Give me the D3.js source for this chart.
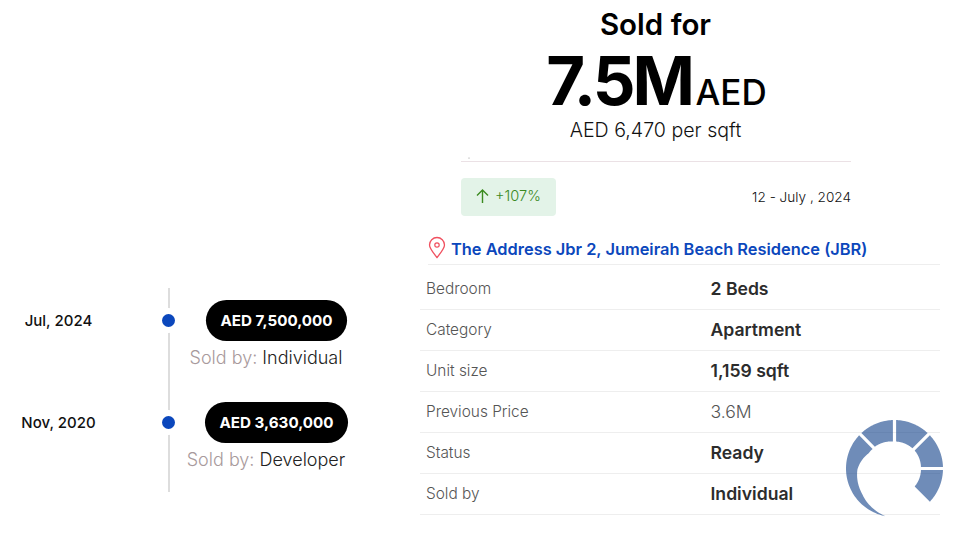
<!DOCTYPE html>
<html>
<head>
<meta charset="utf-8">
<script src="https://d3js.org/d3.v7.min.js"></script>
<style>
  html, body { margin: 0; background: #fff; }
  svg { display: block; }
  text { font-family: Inter, "Noto Sans", sans-serif; }
</style>
</head>
<body>
<script>
const soldPrice = '7.5M';
const pricePerSqft = 'AED 6,470 per sqft';
const change = '+107%';
const soldDate = '12 - July , 2024';
const place = 'The Address Jbr 2, Jumeirah Beach Residence (JBR)';

const saleDates = ['Jul, 2024', 'Nov, 2020'];
const salePrices = [7500000, 3630000];
const saleSellers = ['Individual', 'Developer'];

const rowLabels = ['Bedroom', 'Category', 'Unit size', 'Previous Price', 'Status', 'Sold by'];
const rowValues = ['2 Beds', 'Apartment', '1,159 sqft', '3.6M', 'Ready', 'Individual'];

// ring segments in degrees, clockwise from 12 o'clock
const ringStarts = [189, 315, 360, 405, 450];
const ringEnds = [315, 360, 405, 450, 495];
// inner edge is not round in the source, so read it at a few angles
const innerAngles = [189, 232, 270, 303, 360, 405, 450, 495];
const innerRadii = [48.5, 41, 37, 30, 27, 27, 26.5, 27];

const width = 973;
const height = 547;

const svg = d3.select('body').append('svg')
  .attr('width', width)
  .attr('height', height);

// header
const cx = 655;
svg.append('text').attr('x', cx + 0.5).attr('y', 35).attr('text-anchor', 'middle')
  .attr('font-size', 29.5).attr('font-weight', 600).attr('fill', '#000').text('Sold for');
svg.append('text').attr('x', 692).attr('y', 105).attr('text-anchor', 'end')
  .attr('font-size', 67).attr('font-weight', 700).attr('letter-spacing', -3).attr('fill', '#000').text(soldPrice);
svg.append('text').attr('x', 695.5).attr('y', 105)
  .attr('font-size', 35).attr('font-weight', 500).attr('fill', '#000').text('AED');
svg.append('text').attr('x', cx + 0.5).attr('y', 137).attr('text-anchor', 'middle')
  .attr('font-size', 19.6).attr('font-weight', 300).attr('fill', '#111').text(pricePerSqft);

svg.append('line').attr('x1', 461).attr('x2', 851).attr('y1', 161.5).attr('y2', 161.5)
  .attr('stroke', '#ebe1e5');
svg.append('circle').attr('cx', 469).attr('cy', 158).attr('r', 0.5).attr('fill', '#777');

// change badge
svg.append('rect').attr('x', 461).attr('y', 178).attr('width', 95).attr('height', 38).attr('rx', 4)
  .attr('fill', '#e3f3e8');
svg.append('path').attr('d', 'M482.5 203V190M477 195.5L482.5 190L488 195.5')
  .attr('fill', 'none').attr('stroke', '#3b8a1f').attr('stroke-width', 1.4);
svg.append('text').attr('x', 495).attr('y', 201)
  .attr('font-size', 14.6).attr('font-weight', 300).attr('fill', '#3b8a1f').text(change);
svg.append('text').attr('x', 851).attr('y', 202).attr('text-anchor', 'end')
  .attr('font-size', 13.6).attr('font-weight', 300).attr('fill', '#111').text(soldDate);

// place
svg.append('path')
  .attr('d', 'M437 257.5C432.5 252 429.5 248.5 429.5 245A7.5 7.5 0 0 1 444.5 245C444.5 248.5 441.5 252 437 257.5Z')
  .attr('fill', 'none').attr('stroke', '#f0505f').attr('stroke-width', 1.3);
svg.append('circle').attr('cx', 437).attr('cy', 245).attr('r', 2.2)
  .attr('fill', 'none').attr('stroke', '#f0505f').attr('stroke-width', 1.2);
svg.append('text').attr('x', 451).attr('y', 255)
  .attr('font-size', 16.4).attr('font-weight', 600).attr('fill', '#0b47bc').text(place);

// details table
const rowY = d3.scaleBand().domain(rowLabels).range([268.5, 514.5]);

svg.append('line').attr('x1', 428).attr('x2', 940).attr('y1', 264.5).attr('y2', 264.5)
  .attr('stroke', '#eeeeee');

const rows = svg.selectAll('g.row')
  .data(rowLabels)
  .join('g')
  .attr('class', 'row')
  .attr('transform', d => `translate(0,${rowY(d)})`);

rows.append('line')
  .attr('x1', 420).attr('x2', 940)
  .attr('y1', rowY.bandwidth()).attr('y2', rowY.bandwidth())
  .attr('stroke', '#eeeeee');
rows.append('text')
  .attr('x', 426).attr('y', 25)
  .attr('font-size', 15.4).attr('font-weight', 300).attr('fill', '#555')
  .text(d => d);
rows.append('text')
  .attr('x', 710.5).attr('y', 26)
  .attr('font-size', 17.6)
  .attr('font-weight', (d, i) => rowValues[i] === '3.6M' ? 300 : 600)
  .attr('fill', (d, i) => rowValues[i] === '3.6M' ? '#555' : '#2c2c2c')
  .text((d, i) => rowValues[i]);

// timeline
const timeY = d3.scalePoint().domain(saleDates).range([320.5, 422.5]);
const axisX = 169;
const priceFormat = d3.format(',');

svg.append('line').attr('x1', axisX).attr('x2', axisX).attr('y1', 288).attr('y2', 492)
  .attr('stroke', '#dddddd').attr('stroke-width', 2);

const sales = svg.selectAll('g.sale')
  .data(saleDates)
  .join('g')
  .attr('class', 'sale')
  .attr('transform', d => `translate(0,${timeY(d)})`);

sales.append('circle').attr('cx', axisX - 0.5).attr('r', 12.5).attr('fill', '#fff');
sales.append('circle').attr('cx', axisX - 0.5).attr('r', 6.5).attr('fill', '#0b47bc');
sales.append('text')
  .attr('x', 58.5).attr('y', 5)
  .attr('text-anchor', 'middle')
  .attr('font-size', 15).attr('font-weight', 500).attr('fill', '#111')
  .text(d => d);

const pillText = sales.append('text')
  .attr('x', 276.5).attr('y', 5.5)
  .attr('text-anchor', 'middle')
  .attr('font-size', 15.2).attr('font-weight', 700).attr('fill', '#fff')
  .text((d, i) => 'AED ' + priceFormat(salePrices[i]));

pillText.each(function() {
  const w = this.getComputedTextLength() + 29;
  d3.select(this.parentNode).insert('rect', 'text')
    .attr('x', 276.5 - w / 2).attr('y', -20.5)
    .attr('width', w).attr('height', 41).attr('rx', 20.5)
    .attr('fill', '#000');
});

const soldBy = sales.append('text')
  .attr('x', 266).attr('y', 43.5)
  .attr('text-anchor', 'middle')
  .attr('font-size', 18).attr('font-weight', 300);
soldBy.append('tspan').attr('fill', '#a89a9c').text('Sold by: ');
soldBy.append('tspan').attr('fill', '#222').text((d, i) => saleSellers[i]);

// ring
const ringX = 894.5;
const ringY = 468.5;
const outerR = 48.5;
const gap = 1.6;

const rad = d3.scaleLinear().domain([0, 360]).range([0, 2 * Math.PI]);
const innerAt = d3.scaleLinear().domain(innerAngles).range(innerRadii);

function ringPath(start, end) {
  const steps = d3.range(0, 1.001, 0.02);
  const trim = r => Math.asin(Math.min(1, gap / r));
  const span = rad(end) - rad(start);
  const area = d3.areaRadial()
    .startAngle(t => {
      const r = innerAt(start + (end - start) * t);
      return rad(start) + trim(r) + (span - 2 * trim(r)) * t;
    })
    .endAngle(t => rad(start) + trim(outerR) + (span - 2 * trim(outerR)) * t)
    .innerRadius(t => innerAt(start + (end - start) * t))
    .outerRadius(outerR);
  return area(steps);
}

svg.append('g')
  .attr('transform', `translate(${ringX},${ringY})`)
  .selectAll('path')
  .data(ringStarts)
  .join('path')
  .attr('d', (d, i) => ringPath(d, ringEnds[i]))
  .attr('fill', '#0f4088')
  .attr('fill-opacity', 0.6);
</script>
</body>
</html>
